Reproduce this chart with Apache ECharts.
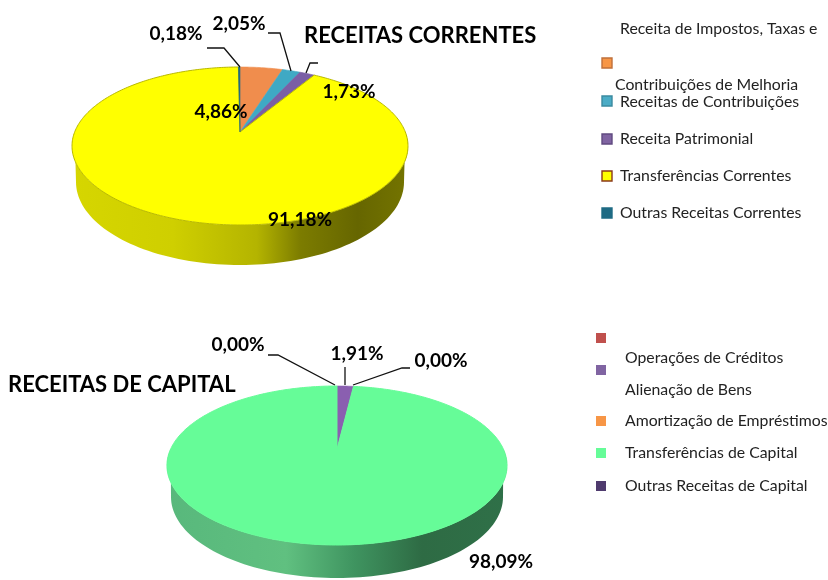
<!DOCTYPE html>
<html><head><meta charset="utf-8">
<style>html,body{margin:0;padding:0;background:#fff}#c{width:828px;height:580px}</style>
<script src="https://cdn.jsdelivr.net/npm/echarts@6/dist/echarts.min.js"></script>
</head><body><div id="c"></div>
<script>
// ---- data ----
const correntesNames = ['Receita de Impostos, Taxas e Contribuições de Melhoria','Receitas de Contribuições','Receita Patrimonial','Transferências Correntes','Outras Receitas Correntes'];
const correntesValues = [4.86, 2.05, 1.73, 91.18, 0.18];
const correntesColors = ['#F08D4D','#3FA9C4','#7A5FA5','#FFFF00','#1F6B84'];
const capitalNames = ['Operações de Créditos','Alienação de Bens','Amortização de Empréstimos','Transferências de Capital','Outras Receitas de Capital'];
const capitalValues = [0, 1.91, 0, 98.09, 0];
const capitalColors = ['#C0504D','#8A5FB0','#F79646','#66FC98','#4F3B6E'];
const fmt = v => v.toFixed(2).replace('.', ',') + '%';

// ---- layout ----
const FONT = 'Lato';
const geomTop = {cx:240, apexY:132, far:65, near:93, rx:168, ry:79, wall:{cy:182, rx:164, ry:83},
  edge:'#b9b900', grad:[[0,'#d6d600'],[0.3,'#cfcf00'],[0.55,'#b4b400'],[0.68,'#7c7c00'],[0.85,'#666600'],[1,'#747400']]};
const geomBot = {cx:337, apexY:449, far:63, near:96, rx:170, ry:80, wall:{cy:497, rx:166, ry:81},
  edge:'#66FC98', grad:[[0,'#58b87c'],[0.35,'#60c080'],[0.55,'#3f9460'],[0.75,'#2e6b44'],[1,'#2f7048']]};

function projector(g){
  const c = (g.near - g.far) / (g.near + g.far), a = g.far * (1 + c);
  const k = (g.near - g.far) / 2;
  const d = g.rx * Math.sqrt(1 - (k / g.ry) * (k / g.ry));
  return t => { // t: fraction of the circle, clockwise from 12 o'clock
    const th = t * 2 * Math.PI, x = Math.sin(th), y = Math.cos(th), w = 1 + c * y;
    return [g.cx + d * x / w, g.apexY - a * y / w];
  };
}
function sliceSeries(values, colors, g){
  const P = projector(g);
  const total = values.reduce((s, v) => s + v, 0);
  let acc = 0;
  const rows = values.map(v => { const r = [v, acc / total, (acc + v) / total]; acc += v; return r; });
  return {
    type:'custom', coordinateSystem:'none', silent:true, z:3, clip:false,
    data: rows,
    renderItem(params, api){
      const v = api.value(0), s = api.value(1), e = api.value(2);
      if (!v) return {type:'group', children:[]};
      const pts = [[g.cx, g.apexY]];
      const n = Math.max(2, Math.ceil((e - s) * 360));
      for (let i = 0; i <= n; i++) pts.push(P(s + (e - s) * i / n));
      const col = colors[params.dataIndex];
      const big = v > 50;
      return {type:'polygon', shape:{points:pts},
        style:{fill:col, stroke: big ? g.edge : col, lineWidth: big ? 1 : 0.6}};
    }
  };
}
function wallSeries(g){
  const P = projector(g);
  return {
    type:'custom', coordinateSystem:'none', silent:true, z:2, clip:false,
    data:[[1]],
    renderItem(){
      const pts = [];
      for (let i = 90; i <= 270; i += 2) pts.push(P(i / 360));
      for (let i = 270; i >= 90; i -= 2) {
        const a = i * Math.PI / 180;
        pts.push([g.cx + g.wall.rx * Math.sin(a), g.wall.cy - g.wall.ry * Math.cos(a)]);
      }
      return {type:'polygon', shape:{points:pts}, style:{
        fill:{type:'linear', x:0, y:0, x2:1, y2:0,
          colorStops:g.grad.map(([offset,color]) => ({offset, color}))}
      }};
    }
  };
}
const line = pts => ({type:'polyline', z:20, shape:{points:pts}, style:{stroke:'#111', lineWidth:1.3, fill:null}});
const label = (txt, x, y) => ({type:'text', z:21, x, y, style:{text:txt, font:'bold 19px '+FONT, fill:'#000', align:'center', verticalAlign:'middle'}});
const legendText = (txt, x, y) => ({type:'text', z:21, x, y, style:{text:txt, font:'15.8px '+FONT, fill:'#222', align:'left', verticalAlign:'middle'}});
const swatch = (col, x, y, s, border) => ({type:'rect', z:21, shape:{x:x, y:y-s/2, width:s, height:s},
  style:{fill:col, stroke:border||null, lineWidth:border?1.4:0}});

const graphics = [
  // leader lines
  line([[207,48],[224,48],[240,67]]),
  line([[268,33],[280,33],[291,71]]),
  line([[318,63],[310,63],[306,73]]),
  line([[268,355],[278,355],[335,385]]),
  line([[345,367],[345,385]]),
  line([[410,368],[402,368],[353,385]]),
  // data labels
  label(fmt(correntesValues[4]),176,34),
  label(fmt(correntesValues[0]),221,112),
  label(fmt(correntesValues[1]),239,24),
  label(fmt(correntesValues[2]),349,92),
  label(fmt(correntesValues[3]),300,220),
  label(fmt(capitalValues[0]),238,345),
  label(fmt(capitalValues[1]),357,354),
  label(fmt(capitalValues[2]),441,361),
  label(fmt(capitalValues[3]),501,562),
  // legend, receitas correntes
  legendText('Receita de Impostos, Taxas e',620,29),
  legendText('Contribuições de Melhoria',615,85),
  legendText(correntesNames[1],620,102),
  legendText(correntesNames[2],620,139),
  legendText(correntesNames[3],620,176),
  legendText(correntesNames[4],620,213),
  swatch('#F79646',602,63,10,'#C0703A'),
  swatch('#4BACC6',602,101,10,'#3B8AA0'),
  swatch('#8064A2',602,139,10,'#604A80'),
  swatch(correntesColors[3],602,176,10,'#8B3A1A'),
  swatch(correntesColors[4],602,213,10,'#1F6B84'),
  // legend, receitas de capital
  legendText(capitalNames[0],625,358),
  legendText(capitalNames[1],625,390),
  legendText(capitalNames[2],625,421),
  legendText(capitalNames[3],625,453),
  legendText(capitalNames[4],625,486),
  swatch(capitalColors[0],596,338,10),
  swatch('#8064A2',596,370,10),
  swatch(capitalColors[2],596,421,10),
  swatch(capitalColors[3],596,453,10),
  swatch(capitalColors[4],596,486,10)
];

const chart = echarts.init(document.getElementById('c'), null, {renderer:'canvas'});
chart.setOption({
  animation:false,
  backgroundColor:'#fff',
  title:[
    {text:'RECEITAS CORRENTES', left:304, top:25, textStyle:{fontFamily:FONT, fontWeight:'bold', fontSize:22, color:'#000'}, padding:0},
    {text:'RECEITAS DE CAPITAL', left:8, top:374, textStyle:{fontFamily:FONT, fontWeight:'bold', fontSize:22, color:'#000'}, padding:0}
  ],
  graphic:graphics,
  series:[wallSeries(geomTop), sliceSeries(correntesValues, correntesColors, geomTop),
          wallSeries(geomBot), sliceSeries(capitalValues, capitalColors, geomBot)]
});
</script></body></html>
